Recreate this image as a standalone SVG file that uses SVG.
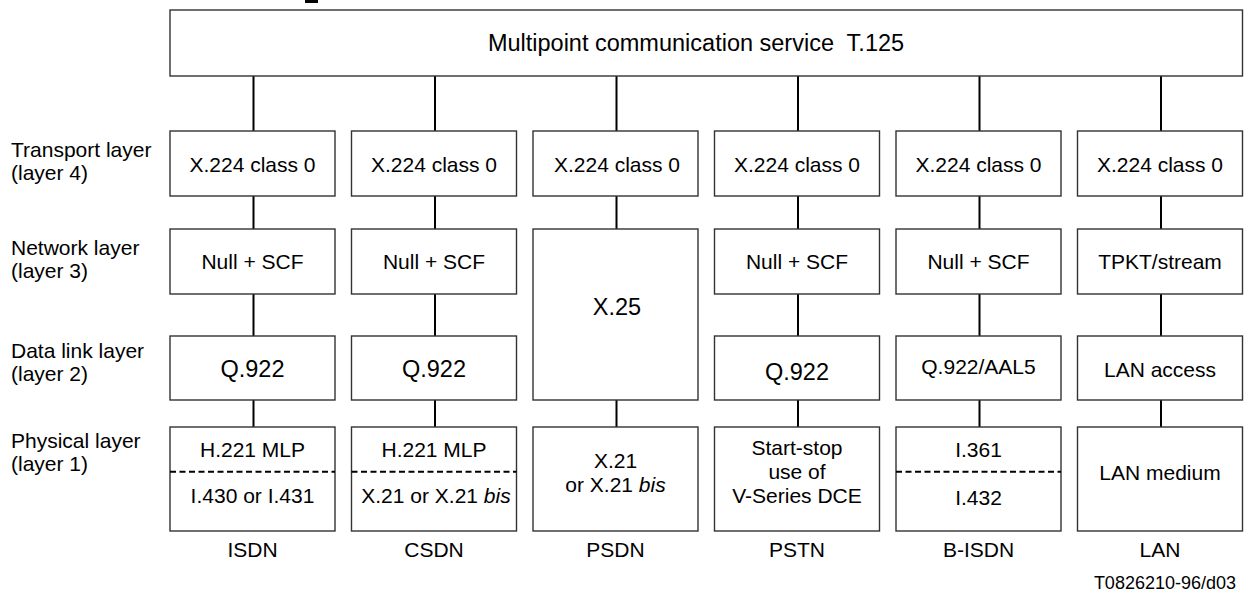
<svg xmlns="http://www.w3.org/2000/svg" width="1245" height="598" viewBox="0 0 1245 598">
<style>
  text { font-family: "Liberation Sans", Arial, sans-serif; fill: #000; }
  .lbl { font-size: 21px; }
  .c { font-size: 21px; text-anchor: middle; }
  .big { font-size: 23.5px; text-anchor: middle; }
  .title { font-size: 23.5px; text-anchor: middle; }
  .box { fill: #fff; stroke: #333; stroke-width: 1.4; }
  .con { stroke: #000; stroke-width: 2; fill: none; }
  .dash { stroke: #000; stroke-width: 2; stroke-dasharray: 6 3.5; fill: none; }
  .foot { font-size: 18px; text-anchor: end; }
</style>
<rect x="0" y="0" width="1245" height="598" fill="#fff"/>
<rect x="305" y="0" width="13" height="3" fill="#000"/>

<g id="connectors">
  <path class="con" d="M253.5 76V131 M253.5 196V229 M253.5 294V336 M253.5 400V427"/>
  <path class="con" d="M435 76V131 M435 196V229 M435 294V336 M435 400V427"/>
  <path class="con" d="M616.5 76V131 M616.5 196V229 M616.5 400V427"/>
  <path class="con" d="M798 76V131 M798 196V229 M798 294V336 M798 400V427"/>
  <path class="con" d="M979.5 76V131 M979.5 196V229 M979.5 294V336 M979.5 400V427"/>
  <path class="con" d="M1161 76V131 M1161 196V229 M1161 294V336 M1161 400V427"/>
</g>

<g id="layer-labels">
  <text class="lbl" x="11" y="157">Transport layer</text>
  <text class="lbl" x="11" y="180">(layer 4)</text>
  <text class="lbl" x="11" y="255">Network layer</text>
  <text class="lbl" x="11" y="278">(layer 3)</text>
  <text class="lbl" x="11" y="358">Data link layer</text>
  <text class="lbl" x="11" y="381">(layer 2)</text>
  <text class="lbl" x="11" y="448">Physical layer</text>
  <text class="lbl" x="11" y="471">(layer 1)</text>
</g>

<g id="mcs">
  <rect class="box" x="170" y="10" width="1072.5" height="66"/>
  <text class="title" x="696" y="51" xml:space="preserve">Multipoint communication service  T.125</text>
</g>

<!-- ISDN column -->
<g id="isdn-transport"><rect class="box" x="170" y="131" width="165" height="65"/><text class="c" x="252.5" y="171.5">X.224 class 0</text></g>
<g id="isdn-network"><rect class="box" x="170" y="229" width="165" height="65"/><text class="c" x="252.5" y="269">Null + SCF</text></g>
<g id="isdn-datalink"><rect class="box" x="170" y="336" width="165" height="64"/><text class="big" x="252.5" y="377">Q.922</text></g>
<g id="isdn-physical"><rect class="box" x="170" y="427" width="165" height="104"/>
  <path class="dash" d="M170 471.7H335"/>
  <text class="c" x="252.5" y="457">H.221 MLP</text>
  <text class="c" x="252.5" y="502.5">I.430 or I.431</text></g>
<g id="isdn-label"><text class="c" x="252.5" y="556.5">ISDN</text></g>

<!-- CSDN column -->
<g id="csdn-transport"><rect class="box" x="351.5" y="131" width="165" height="65"/><text class="c" x="434" y="171.5">X.224 class 0</text></g>
<g id="csdn-network"><rect class="box" x="351.5" y="229" width="165" height="65"/><text class="c" x="434" y="269">Null + SCF</text></g>
<g id="csdn-datalink"><rect class="box" x="351.5" y="336" width="165" height="64"/><text class="big" x="434" y="377">Q.922</text></g>
<g id="csdn-physical"><rect class="box" x="351.5" y="427" width="165" height="104"/>
  <path class="dash" d="M351.5 471.7H516.5"/>
  <text class="c" x="434" y="457">H.221 MLP</text>
  <text class="c" x="436" y="502.5">X.21 or X.21 <tspan font-style="italic">bis</tspan></text></g>
<g id="csdn-label"><text class="c" x="434" y="556.5">CSDN</text></g>

<!-- PSDN column -->
<g id="psdn-transport"><rect class="box" x="533" y="131" width="165" height="65"/><text class="c" x="617" y="171.5">X.224 class 0</text></g>
<g id="psdn-network"><rect class="box" x="533" y="229" width="165" height="171"/><text class="big" x="617" y="315">X.25</text></g>
<g id="psdn-physical"><rect class="box" x="533" y="427" width="165" height="104"/>
  <text class="c" x="615.5" y="468">X.21</text>
  <text class="c" x="615.5" y="491.5">or X.21 <tspan font-style="italic">bis</tspan></text></g>
<g id="psdn-label"><text class="c" x="615.5" y="556.5">PSDN</text></g>

<!-- PSTN column -->
<g id="pstn-transport"><rect class="box" x="714.5" y="131" width="165" height="65"/><text class="c" x="797" y="171.5">X.224 class 0</text></g>
<g id="pstn-network"><rect class="box" x="714.5" y="229" width="165" height="65"/><text class="c" x="797" y="269">Null + SCF</text></g>
<g id="pstn-datalink"><rect class="box" x="714.5" y="336" width="165" height="64"/><text class="big" x="797" y="380">Q.922</text></g>
<g id="pstn-physical"><rect class="box" x="714.5" y="427" width="165" height="104"/>
  <text class="c" x="797" y="455">Start-stop</text>
  <text class="c" x="797" y="479">use of</text>
  <text class="c" x="797" y="503">V-Series DCE</text></g>
<g id="pstn-label"><text class="c" x="797" y="556.5">PSTN</text></g>

<!-- B-ISDN column -->
<g id="bisdn-transport"><rect class="box" x="896" y="131" width="165" height="65"/><text class="c" x="978.5" y="171.5">X.224 class 0</text></g>
<g id="bisdn-network"><rect class="box" x="896" y="229" width="165" height="65"/><text class="c" x="978.5" y="269">Null + SCF</text></g>
<g id="bisdn-datalink"><rect class="box" x="896" y="336" width="165" height="64"/><text class="c" x="978.5" y="374">Q.922/AAL5</text></g>
<g id="bisdn-physical"><rect class="box" x="896" y="427" width="165" height="104"/>
  <path class="dash" d="M896 471.7H1061"/>
  <text class="c" x="978.5" y="457">I.361</text>
  <text class="c" x="978.5" y="505">I.432</text></g>
<g id="bisdn-label"><text class="c" x="978.5" y="556.5">B-ISDN</text></g>

<!-- LAN column -->
<g id="lan-transport"><rect class="box" x="1077.5" y="131" width="165" height="65"/><text class="c" x="1160" y="171.5">X.224 class 0</text></g>
<g id="lan-network"><rect class="box" x="1077.5" y="229" width="165" height="65"/><text class="c" x="1160" y="268.5">TPKT/stream</text></g>
<g id="lan-datalink"><rect class="box" x="1077.5" y="336" width="165" height="64"/><text class="c" x="1160" y="377">LAN access</text></g>
<g id="lan-physical"><rect class="box" x="1077.5" y="427" width="165" height="104"/>
  <text class="c" x="1160" y="480">LAN medium</text></g>
<g id="lan-label"><text class="c" x="1160" y="556.5">LAN</text></g>

<text class="foot" x="1236" y="589">T0826210-96/d03</text>
</svg>
